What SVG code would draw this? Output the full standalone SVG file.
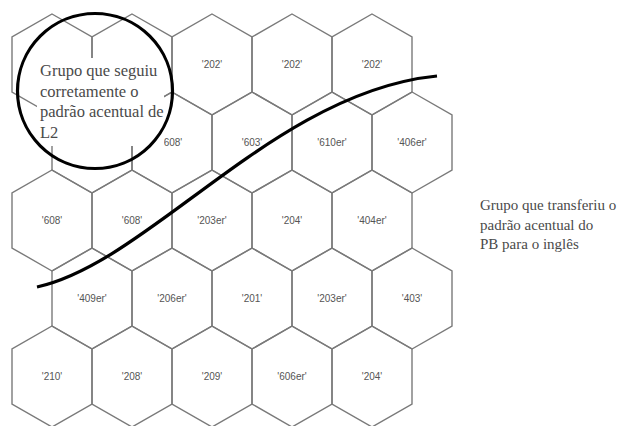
<svg xmlns="http://www.w3.org/2000/svg" xmlns:xlink="http://www.w3.org/1999/xlink" width="619" height="426" viewBox="0 0 619 426">
<style>
.h{fill:none;stroke:#7a7a7a;stroke-width:1.4}
.l{font-family:"Liberation Sans",Arial,sans-serif;font-size:10px;fill:#555;text-anchor:middle}
.t{font-family:"Liberation Serif","Times New Roman",serif;fill:#4a4a4a}
.k{fill:none;stroke:#000;stroke-width:3.2}
</style>
<defs>
<polygon id="hex" points="0,-50.5 40,-27.5 40,27.5 0,50.5 -40,27.5 -40,-27.5"/>
</defs>
<rect width="619" height="426" fill="#fff"/>
<g id="hexes">
<g id="r1c1"><use href="#hex" x="52" y="64.5" class="h"/></g>
<g id="r1c2"><use href="#hex" x="132" y="64.5" class="h"/></g>
<g id="r1c3"><use href="#hex" x="212" y="64.5" class="h"/><text class="l" x="212" y="68">'202'</text></g>
<g id="r1c4"><use href="#hex" x="292" y="64.5" class="h"/><text class="l" x="292" y="68">'202'</text></g>
<g id="r1c5"><use href="#hex" x="372" y="64.5" class="h"/><text class="l" x="372" y="68">'202'</text></g>

<g id="r2c1"><use href="#hex" x="92" y="142.5" class="h"/></g>
<g id="r2c2"><use href="#hex" x="172" y="142.5" class="h"/><text class="l" x="172" y="146">'608'</text></g>
<g id="r2c3"><use href="#hex" x="252" y="142.5" class="h"/><text class="l" x="252" y="146">'603'</text></g>
<g id="r2c4"><use href="#hex" x="332" y="142.5" class="h"/><text class="l" x="332" y="146">'610er'</text></g>
<g id="r2c5"><use href="#hex" x="412" y="142.5" class="h"/><text class="l" x="412" y="146">'406er'</text></g>

<g id="r3c1"><use href="#hex" x="52" y="220.5" class="h"/><text class="l" x="52" y="224">'608'</text></g>
<g id="r3c2"><use href="#hex" x="132" y="220.5" class="h"/><text class="l" x="132" y="224">'608'</text></g>
<g id="r3c3"><use href="#hex" x="212" y="220.5" class="h"/><text class="l" x="212" y="224">'203er'</text></g>
<g id="r3c4"><use href="#hex" x="292" y="220.5" class="h"/><text class="l" x="292" y="224">'204'</text></g>
<g id="r3c5"><use href="#hex" x="372" y="220.5" class="h"/><text class="l" x="372" y="224">'404er'</text></g>

<g id="r4c1"><use href="#hex" x="92" y="298.5" class="h"/><text class="l" x="92" y="302">'409er'</text></g>
<g id="r4c2"><use href="#hex" x="172" y="298.5" class="h"/><text class="l" x="172" y="302">'206er'</text></g>
<g id="r4c3"><use href="#hex" x="252" y="298.5" class="h"/><text class="l" x="252" y="302">'201'</text></g>
<g id="r4c4"><use href="#hex" x="332" y="298.5" class="h"/><text class="l" x="332" y="302">'203er'</text></g>
<g id="r4c5"><use href="#hex" x="412" y="298.5" class="h"/><text class="l" x="412" y="302">'403'</text></g>

<g id="r5c1"><use href="#hex" x="52" y="376.5" class="h"/><text class="l" x="52" y="380">'210'</text></g>
<g id="r5c2"><use href="#hex" x="132" y="376.5" class="h"/><text class="l" x="132" y="380">'208'</text></g>
<g id="r5c3"><use href="#hex" x="212" y="376.5" class="h"/><text class="l" x="212" y="380">'209'</text></g>
<g id="r5c4"><use href="#hex" x="292" y="376.5" class="h"/><text class="l" x="292" y="380">'606er'</text></g>
<g id="r5c5"><use href="#hex" x="372" y="376.5" class="h"/><text class="l" x="372" y="380">'204'</text></g>
</g>
<g id="circleGroup">
<rect x="37" y="58" width="127" height="88" fill="#fff"/>
<text class="t" font-size="16.5" x="40" y="76">Grupo que seguiu</text>
<text class="t" font-size="16.5" x="40" y="96.5">corretamente o</text>
<text class="t" font-size="16.5" x="40" y="117">padrão acentual de</text>
<text class="t" font-size="16.5" x="40" y="137.5">L2</text>
<circle cx="95" cy="91" r="77.5" class="k" stroke-width="3.5"/>
</g>
<g id="rightLabel">
<text class="t" font-size="15" x="480" y="210">Grupo que transferiu o</text>
<text class="t" font-size="15" x="480" y="229.5">padrão acentual do</text>
<text class="t" font-size="15" x="480" y="249">PB para o inglês</text>
</g>
<g id="connectors">
<path class="k" d="M37,287 C150,262 275,92 437,76"/>
</g>
</svg>
